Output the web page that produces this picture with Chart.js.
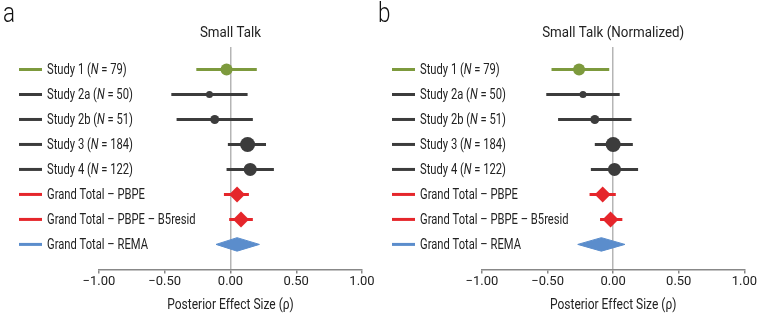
<!DOCTYPE html>
<html>
<head>
<meta charset="utf-8">
<script src="https://cdn.jsdelivr.net/npm/chart.js@4.4.0/dist/chart.umd.min.js"></script>
<style>
    body { margin: 0; background: #fff; width: 758px; height: 315px; position: relative; overflow: hidden; }
    canvas { position: absolute; top: 0; }
    #chartA { left: 0; }
    #chartB { left: 370px; }
</style>
</head>
<body>
<canvas id="chartA" width="379" height="315" style="width:379px;height:315px"></canvas>
<canvas id="chartB" width="388" height="315" style="width:388px;height:315px"></canvas>
<script>
// Rows (top to bottom)
var studyNames = ['Study 1', 'Study 2a', 'Study 2b', 'Study 3', 'Study 4'];
var sampleSizes = [79, 50, 51, 184, 122];
var totalNames = ['Grand Total \u2013 PBPE', 'Grand Total \u2013 PBPE \u2013 B5resid', 'Grand Total \u2013 REMA'];
var panelTitles = ['Small Talk', 'Small Talk (Normalized)'];
var panelLetters = ['a', 'b'];
var tickLabels = ['\u22121.00', '\u22120.50', '0.00', '0.50', '1.00'];
var axisTitle = 'Posterior Effect Size (\u03c1)';

// Panel a: Small Talk
var estimateA = [-0.03, -0.16, -0.12, 0.13, 0.15, 0.05, 0.08, 0.05];
var lowerA = [-0.26, -0.45, -0.41, -0.02, -0.03, -0.05, -0.01, -0.11];
var upperA = [0.20, 0.13, 0.17, 0.27, 0.33, 0.14, 0.17, 0.22];

// Panel b: Small Talk (Normalized)
var estimateB = [-0.26, -0.23, -0.14, 0.00, 0.01, -0.08, -0.02, -0.09];
var lowerB = [-0.47, -0.51, -0.42, -0.14, -0.17, -0.18, -0.10, -0.27];
var upperB = [-0.03, 0.05, 0.14, 0.15, 0.19, 0.02, 0.07, 0.09];

// styles
var FONT = "Roboto, 'Liberation Sans', sans-serif";
var NARROW = 0.8; // squeeze Roboto towards the condensed face of the original
var GREEN = '#7d9a3d', DARK = '#3c3c3c', RED = '#e5262b', BLUE = '#5b8dcc';
var rowColors = [GREEN, DARK, DARK, DARK, DARK, RED, RED, BLUE];
var markerSizes = [6, 3.5, 4.5, 7.5, 6.5, 8, 8, 0];
var markerStyles = ['circle', 'circle', 'circle', 'circle', 'circle', 'rectRot', 'rectRot', 'circle'];
var REMA_ROW = 7;
var DIAMOND_H = 0.27;

Chart.defaults.font.family = FONT;
Chart.defaults.color = '#222';

// draws text squeezed horizontally, returns the drawn width
function narrowText(ctx, text, x, y, align, squeeze) {
    var k = squeeze || NARROW;
    var w = ctx.measureText(text).width * k;
    var left = align === 'center' ? x - w / 2 : x;
    ctx.save();
    ctx.translate(left, y);
    ctx.scale(k, 1);
    ctx.textAlign = 'left';
    ctx.fillText(text, 0, 0);
    ctx.restore();
    return w;
}

var rowLabelsPlugin = {
    id: 'rowLabels',
    afterDraw: function (chart, args, opts) {
        var ctx = chart.ctx;
        var yScale = chart.scales.y;
        var area = chart.chartArea;
        var mid = (area.left + area.right) / 2;
        ctx.save();

        // panel letter
        ctx.fillStyle = '#111';
        ctx.textBaseline = 'alphabetic';
        ctx.font = '300 28px ' + FONT;
        narrowText(ctx, opts.letter, opts.letterX, 22, 'left');

        // panel title and axis title
        ctx.fillStyle = '#222';
        ctx.textBaseline = 'middle';
        ctx.font = '15px ' + FONT;
        narrowText(ctx, opts.title, mid, 33, 'center', 0.89);
        narrowText(ctx, axisTitle, mid, 305, 'center', 0.8);

        // row labels with coloured keys
        for (var i = 0; i < rowColors.length; i++) {
            var py = yScale.getPixelForValue(i);
            ctx.strokeStyle = rowColors[i];
            ctx.lineWidth = 3;
            ctx.beginPath();
            ctx.moveTo(opts.keyX, py);
            ctx.lineTo(opts.keyX + 23, py);
            ctx.stroke();

            var x = opts.keyX + 28;
            ctx.fillStyle = '#222';
            if (i < studyNames.length) {
                var parts = [
                    [studyNames[i] + ' (', ''],
                    ['N', 'italic '],
                    [' = ' + sampleSizes[i] + ')', '']
                ];
                parts.forEach(function (p) {
                    ctx.font = p[1] + '14px ' + FONT;
                    x += narrowText(ctx, p[0], x, py + 1, 'left');
                });
            } else {
                ctx.font = '14px ' + FONT;
                narrowText(ctx, totalNames[i - studyNames.length], x, py + 1, 'left');
            }
        }
        ctx.restore();
    }
};

function makePanel(canvasId, est, lo, hi, panel, padding, keyX, letterX) {
    var datasets = [];

    // point estimates (drawn on top)
    var pts = [], radii = [], styles = [], colors = [];
    for (var i = 0; i < est.length; i++) {
        if (i === REMA_ROW) continue;
        pts.push({ x: est[i], y: i });
        radii.push(markerSizes[i]);
        styles.push(markerStyles[i]);
        colors.push(rowColors[i]);
    }
    datasets.push({
        data: pts,
        pointRadius: radii,
        pointStyle: styles,
        pointBackgroundColor: colors,
        pointBorderWidth: 0,
        order: 0
    });

    // intervals
    for (var j = 0; j < est.length; j++) {
        if (j === REMA_ROW) {
            datasets.push({
                data: [
                    { x: lo[j], y: j },
                    { x: est[j], y: j - DIAMOND_H },
                    { x: hi[j], y: j },
                    { x: est[j], y: j + DIAMOND_H },
                    { x: lo[j], y: j }
                ],
                showLine: true,
                fill: 'shape',
                backgroundColor: rowColors[j],
                borderColor: rowColors[j],
                borderWidth: 1,
                pointRadius: 0,
                tension: 0,
                order: 1
            });
        } else {
            datasets.push({
                data: [{ x: lo[j], y: j }, { x: hi[j], y: j }],
                showLine: true,
                borderColor: rowColors[j],
                borderWidth: 3,
                pointRadius: 0,
                order: 1
            });
        }
    }

    return new Chart(document.getElementById(canvasId), {
        type: 'scatter',
        data: { datasets: datasets },
        plugins: [rowLabelsPlugin],
        options: {
            responsive: false,
            animation: false,
            layout: { padding: padding },
            plugins: {
                legend: { display: false },
                tooltip: { enabled: false },
                rowLabels: { letter: panelLetters[panel], title: panelTitles[panel], keyX: keyX, letterX: letterX }
            },
            scales: {
                x: {
                    min: -1,
                    max: 1,
                    ticks: {
                        stepSize: 0.5,
                        padding: 1,
                        font: { size: 13 },
                        color: '#222',
                        callback: function (v, idx) { return tickLabels[idx]; }
                    },
                    grid: {
                        color: function (c) { return c.tick && c.tick.value === 0 ? '#b5b5b5' : 'rgba(0,0,0,0)'; },
                        lineWidth: 1.5,
                        tickColor: '#888',
                        tickLength: 4
                    },
                    border: { display: true, color: '#888', width: 1.5 }
                },
                y: {
                    type: 'linear',
                    reverse: true,
                    min: -0.9,
                    max: 8,
                    display: false
                }
            }
        }
    });
}

makePanel('chartA', estimateA, lowerA, upperA, 0, { left: 99, right: 17, top: 47, bottom: 24 }, 19, 3);
makePanel('chartB', estimateB, lowerB, upperB, 1, { left: 112, right: 12, top: 47, bottom: 24 }, 22, 8);
</script>
</body>
</html>
